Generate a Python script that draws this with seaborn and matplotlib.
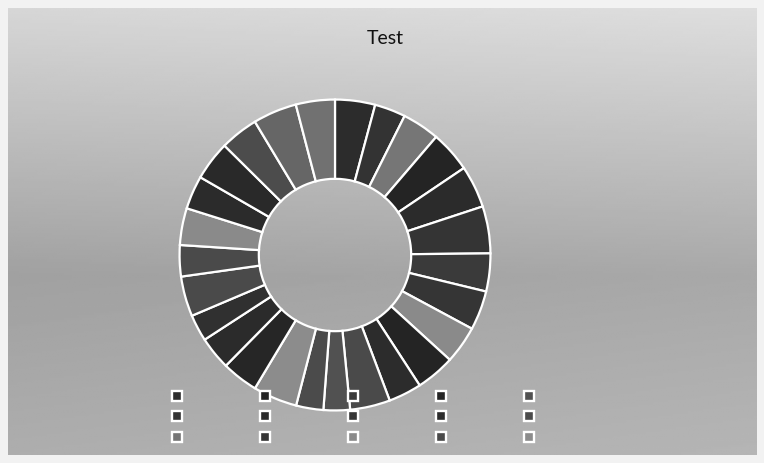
import numpy as np
import seaborn as sns
import matplotlib.pyplot as plt
from matplotlib.lines import Line2D

values = [15, 11.6, 14, 15.4, 15.8, 17.6, 14.2, 14.7, 14.1, 14.6, 12.4, 15, 9.9,
          10.2, 16.5, 13.6, 12.4, 10, 15, 11.7, 13.8, 12.5, 14.7, 14.3, 16.4, 14.6]
shades = ['#2c2c2c', '#333333', '#767676', '#242424', '#2b2b2b', '#343434', '#3a3a3a',
          '#353535', '#8a8a8a', '#242424', '#2c2c2c', '#4a4a4a', '#515151', '#4b4b4b',
          '#8c8c8c', '#262626', '#2b2b2b', '#303030', '#4a4a4a', '#4a4a4a', '#8a8a8a',
          '#2b2b2b', '#292929', '#4c4c4c', '#666666', '#717171']
n_legend = 15
title = 'Test'

sns.set_theme(style='white')
plt.rcParams['font.family'] = ['Lato', 'DejaVu Sans']

W, H = 764, 463
fig = plt.figure(figsize=(W / 100, H / 100), dpi=100)
fig.patch.set_facecolor('#f2f2f2')

# grey backdrop, lighter at the top
bg = fig.add_axes([8 / W, 8 / H, 749 / W, 447 / H])
ys = np.linspace(0, 1, 200)[:, None]
xs = np.linspace(0, 1, 300)[None, :]
grad = 0.84 - 0.21 * np.clip(ys / 0.6, 0, 1) + 0.05 * np.clip((ys - 0.6) / 0.4, 0, 1) + 0.03 * xs
bg.imshow(grad, cmap='gray', vmin=0, vmax=1, aspect='auto', extent=[0, 1, 1, 0])
bg.set_axis_off()

# donut
cx, cy, r = 335, 255, 157
ax = fig.add_axes([(cx - r) / W, (H - cy - r) / H, 2 * r / W, 2 * r / H])
ax.pie(values, colors=shades, startangle=90, counterclock=False, radius=1,
       wedgeprops=dict(width=0.51, edgecolor='white', linewidth=1.6))
ax.set_xlim(-1.01, 1.01)
ax.set_ylim(-1.01, 1.01)
ax.set_axis_off()

fig.text(385 / W, 1 - 38 / H, title, ha='center', va='center', fontsize=14, color='#111111')

handles = [Line2D([], [], ls='none', marker='s', markersize=6.5, markerfacecolor=shades[i],
                  markeredgecolor='white', markeredgewidth=1.7) for i in range(n_legend)]
fig.legend(handles, [''] * n_legend, ncol=5, loc='upper left',
           bbox_to_anchor=(170 / W, 1 - 391 / H), frameon=False, fontsize=10,
           handlelength=1, handletextpad=0, columnspacing=5.33, labelspacing=0.6,
           borderpad=0, borderaxespad=0)

fig.savefig('out.png', dpi=100, facecolor=fig.get_facecolor())
